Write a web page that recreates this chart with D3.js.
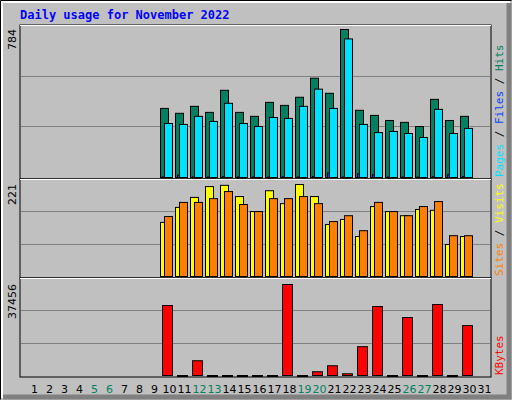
<!DOCTYPE html>
<html><head><meta charset="utf-8">
<script src="https://cdn.jsdelivr.net/npm/d3@7"></script>
<style>body{margin:0;background:#fff}</style>
</head><body>
<div id="chart"></div>
<script>
const days = d3.range(1, 32);
const weekends = [5, 6, 12, 13, 19, 20, 26, 27];
// values for days 1..31 (zero before the 10th)
const hits = [0,0,0,0,0,0,0,0,0,366,340,377,345,462,345,324,398,382,425,526,446,784,356,329,302,292,270,414,302,324,0];
const files = [0,0,0,0,0,0,0,0,0,4,12,3,3,5,3,3,3,5,3,5,25,3,20,15,3,3,3,5,15,5,0];
const pages = [0,0,0,0,0,0,0,0,0,286,281,324,297,393,286,270,318,313,377,468,366,734,281,238,244,233,212,361,233,260,0];
const visits = [0,0,0,0,0,0,0,0,0,130,166,190,216,219,192,156,206,175,221,192,125,137,96,168,156,146,161,159,77,96,0];
const sites = [0,0,0,0,0,0,0,0,0,144,178,178,187,204,173,156,187,187,192,175,132,146,110,178,156,146,168,180,98,98,0];
const kbytes = [0,0,0,0,0,0,0,0,0,28800,0,6070,0,0,0,0,0,37456,0,1530,4000,700,11850,28370,0,23830,0,29200,0,20530,0];

const W = 512, H = 400;
const svg = d3.select('#chart').append('svg').attr('width', W).attr('height', H);
svg.append('rect').attr('width', W).attr('height', H).attr('fill', '#c0c0c0');
// bevel
svg.append('path').attr('d', `M0.5,${H-0.5} V0.5 H${W-0.5}`).attr('stroke', '#000').attr('fill', 'none');
svg.append('path').attr('d', `M2,${H-2} V2 H${W-2}`).attr('stroke', '#fff').attr('stroke-width', 2).attr('fill', 'none');
svg.append('path').attr('d', `M${W-3},3 V${H-3} H3`).attr('stroke', '#808080').attr('stroke-width', 5).attr('fill', 'none');
svg.append('text').attr('x', 20).attr('y', 19).text('Daily usage for November 2022')
  .attr('font-family', 'DejaVu Sans Mono').attr('font-weight', 'bold').attr('font-size', 12).attr('fill', '#0000ff');

const x = d3.scaleBand().domain(days).range([25, 490]).paddingInner(0);

const panels = [
  {top: 25, bottom: 177, maxY: 29, max: 784, series: [[hits, '#008060', 0, 8], [files, '#0040ff', 2, 10], [pages, '#00e0ff', 4, 12]],
   label: [['Pages', '#00e0ff'], [' / ', '#000'], ['Files', '#0040ff'], [' / ', '#000'], ['Hits', '#008060']]},
  {top: 179, bottom: 276, maxY: 184, max: 221, series: [[visits, '#ffff00', 0, 8], [sites, '#ff8000', 4, 12]],
   label: [['Sites', '#ff8000'], [' / ', '#000'], ['Visits', '#ffff00']]},
  {top: 278, bottom: 375, maxY: 284, max: 37456, series: [[kbytes, '#ff0000', 2, 12]],
   label: [['KBytes', '#ff0000']]}
];

panels.forEach(p => {
  svg.append('rect').attr('x', 20).attr('y', p.top).attr('width', 471).attr('height', p.bottom - p.top + 2)
    .attr('fill', '#c0c0c0').attr('stroke', '#000');
  svg.append('path').attr('d', `M${20},${p.top + 0.5} H491`).attr('stroke', '#fff');
  const y = d3.scaleLinear().domain([0, p.max]).range([p.bottom, p.maxY]);
  const step = (p.bottom - p.top) / 3;
  [1, 2].forEach(i => svg.append('line').attr('x1', 21).attr('x2', 490)
    .attr('y1', Math.round(p.bottom - step * i) + 0.5).attr('y2', Math.round(p.bottom - step * i) + 0.5).attr('stroke', '#808080'));
  p.series.forEach(([vals, col, x0, x1]) => {
    svg.append('g').selectAll('rect').data(days.filter(d => d >= 10 && d <= 30)).join('rect')
      .attr('x', d => x(d) + x0 + 0.5)
      .attr('width', x1 - x0)
      .attr('y', d => y(vals[d - 1]) + 0.5)
      .attr('height', d => Math.max(1, p.bottom - y(vals[d - 1])))
      .attr('fill', col).attr('stroke', '#000');
  });
  svg.append('text').attr('transform', `translate(16,${p.maxY}) rotate(-90)`).attr('text-anchor', 'end')
    .attr('font-family', 'DejaVu Sans').attr('font-size', 11).text(p.max);
  const t = svg.append('text').attr('transform', `translate(503,${p.bottom}) rotate(-90)`)
    .attr('font-family', 'DejaVu Sans Mono').attr('font-size', 11);
  p.label.forEach(([s, c]) => t.append('tspan').attr('fill', c).text(s));
});

svg.append('g').selectAll('text').data(days).join('text')
  .attr('x', d => x(d) + x.bandwidth() / 2 + 2).attr('y', 393).attr('text-anchor', 'middle')
  .attr('font-family', 'DejaVu Sans').attr('font-size', 11)
  .attr('fill', d => weekends.includes(d) ? '#008060' : '#000').text(d => d);
</script>
</body></html>
